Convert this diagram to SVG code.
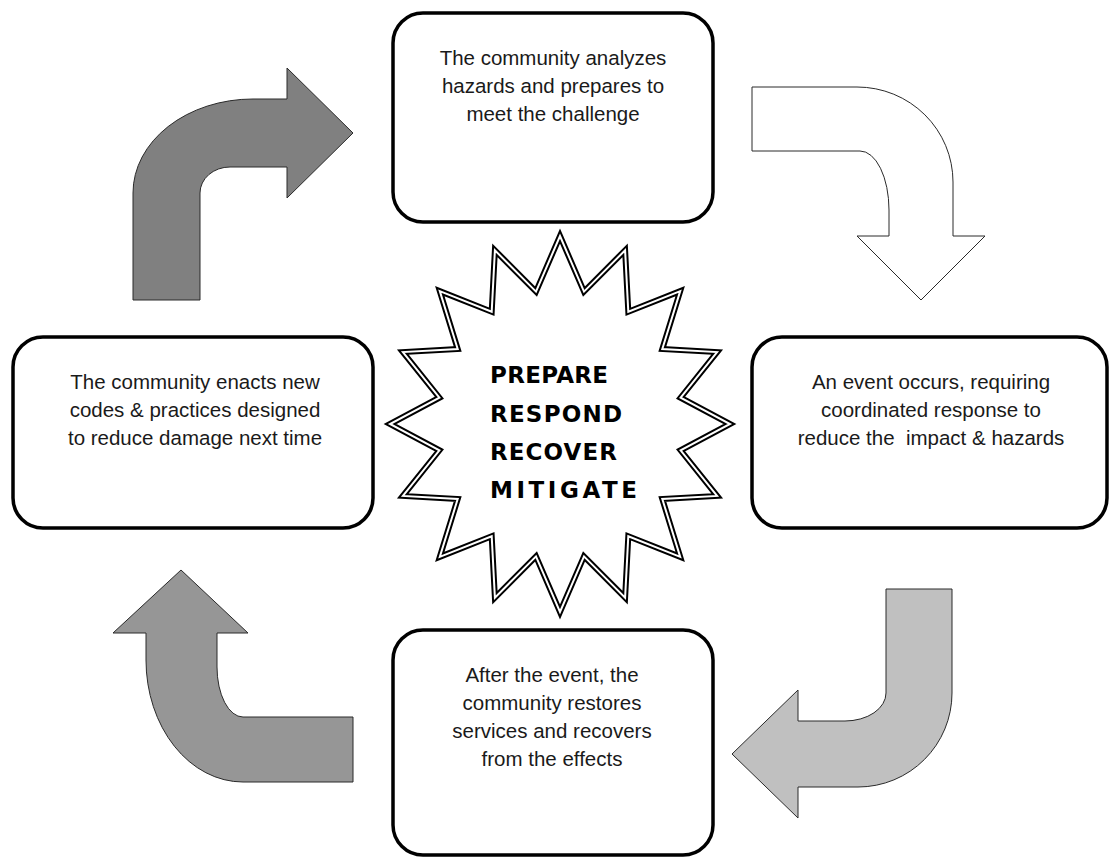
<svg xmlns="http://www.w3.org/2000/svg" width="1112" height="860" viewBox="0 0 1112 860">
  <style>
    .box { fill: #ffffff; stroke: #000000; stroke-width: 3.5; }
    .lbl { font-family: "Liberation Sans", Arial, sans-serif; font-size: 20.5px; fill: #1a1a1a; text-anchor: middle; white-space: pre; }
    .star-t { font-family: "DejaVu Sans", "Liberation Sans", sans-serif; font-weight: bold; font-size: 23px; fill: #000000; }
    .arrow { stroke: #2a2a2a; stroke-width: 1; stroke-linejoin: miter; }
  </style>
  <defs>
    <polygon id="starShape" points="560,236 584,291.6 625.1,250.3 628.3,311.7 680.2,291.1 662.3,349 717.1,352.1 680.6,397.7 730,424 680.6,450.3 717.1,495.9 662.3,499 680.2,556.9 628.3,536.3 625.1,597.7 584,556.4 560,612 536,556.4 494.9,597.7 491.7,536.3 439.8,556.9 457.7,499 402.9,495.9 439.4,450.3 390,424 439.4,397.7 402.9,352.1 457.7,349 439.8,291.1 491.7,311.7 494.9,250.3 536,291.6"/>
  </defs>
  <rect width="1112" height="860" fill="#ffffff"/>

  <g id="connectors">
    <path id="arrow-top-left" class="arrow" fill="#808080" d="M 133 300 L 133 193 A 120 94 0 0 1 253 99 L 287 99 L 287 68 L 353 133 L 287 198 L 287 167 L 230 167 A 30 26 0 0 0 200 193 L 200 300 Z"/>
    <path id="arrow-top-right" class="arrow" fill="#ffffff" stroke="#555555" d="M 752 87 L 857 87 A 96 95 0 0 1 953 182 L 953 236 L 985 236 L 921 300 L 857 236 L 889 236 L 889 210 A 29 59 0 0 0 860 151 L 752 151 Z"/>
    <path id="arrow-bottom-right" class="arrow" fill="#c0c0c0" d="M 886 589 L 952 589 L 952 693 A 94 94 0 0 1 858 787 L 798 787 L 798 818 L 732 754 L 798 690 L 798 721 L 845 721 A 41 28 0 0 0 886 693 Z"/>
    <path id="arrow-bottom-left" class="arrow" fill="#969696" d="M 353 717 L 243 717 A 26 50 0 0 1 217 667 L 217 633 L 248 633 L 181 570 L 113 633 L 146 633 L 146 660 A 97 122 0 0 0 243 782 L 353 782 Z"/>
  </g>

  <g id="node-prepare">
    <rect class="box" x="393" y="13" width="320" height="209" rx="30" ry="30"/>
    <text class="lbl" x="553" y="65">The community analyzes</text>
    <text class="lbl" x="553" y="93">hazards and prepares to</text>
    <text class="lbl" x="553" y="121">meet the challenge</text>
  </g>

  <g id="node-respond">
    <rect class="box" x="752" y="337" width="355" height="191" rx="30" ry="30"/>
    <text class="lbl" x="931" y="389">An event occurs, requiring</text>
    <text class="lbl" x="931" y="417">coordinated response to</text>
    <text class="lbl" x="931" y="445">reduce the  impact &amp; hazards</text>
  </g>

  <g id="node-recover">
    <rect class="box" x="393" y="630" width="320" height="225" rx="30" ry="30"/>
    <text class="lbl" x="552" y="682">After the event, the</text>
    <text class="lbl" x="552" y="710">community restores</text>
    <text class="lbl" x="552" y="738">services and recovers</text>
    <text class="lbl" x="552" y="766">from the effects</text>
  </g>

  <g id="node-mitigate">
    <rect class="box" x="13" y="337" width="360" height="191" rx="30" ry="30"/>
    <text class="lbl" x="195" y="389">The community enacts new</text>
    <text class="lbl" x="195" y="417">codes &amp; practices designed</text>
    <text class="lbl" x="195" y="445">to reduce damage next time</text>
  </g>

  <g id="node-center">
    <use href="#starShape" fill="#ffffff" stroke="#000000" stroke-width="6" stroke-miterlimit="12"/>
    <use href="#starShape" fill="none" stroke="#ffffff" stroke-width="2" stroke-miterlimit="12"/>
    <text class="star-t" x="490" y="383" textLength="118" lengthAdjust="spacing">PREPARE</text>
    <text class="star-t" x="490" y="422" textLength="132" lengthAdjust="spacing">RESPOND</text>
    <text class="star-t" x="490" y="460" textLength="127" lengthAdjust="spacing">RECOVER</text>
    <text class="star-t" x="490" y="498" textLength="147" lengthAdjust="spacing">MITIGATE</text>
  </g>
</svg>
